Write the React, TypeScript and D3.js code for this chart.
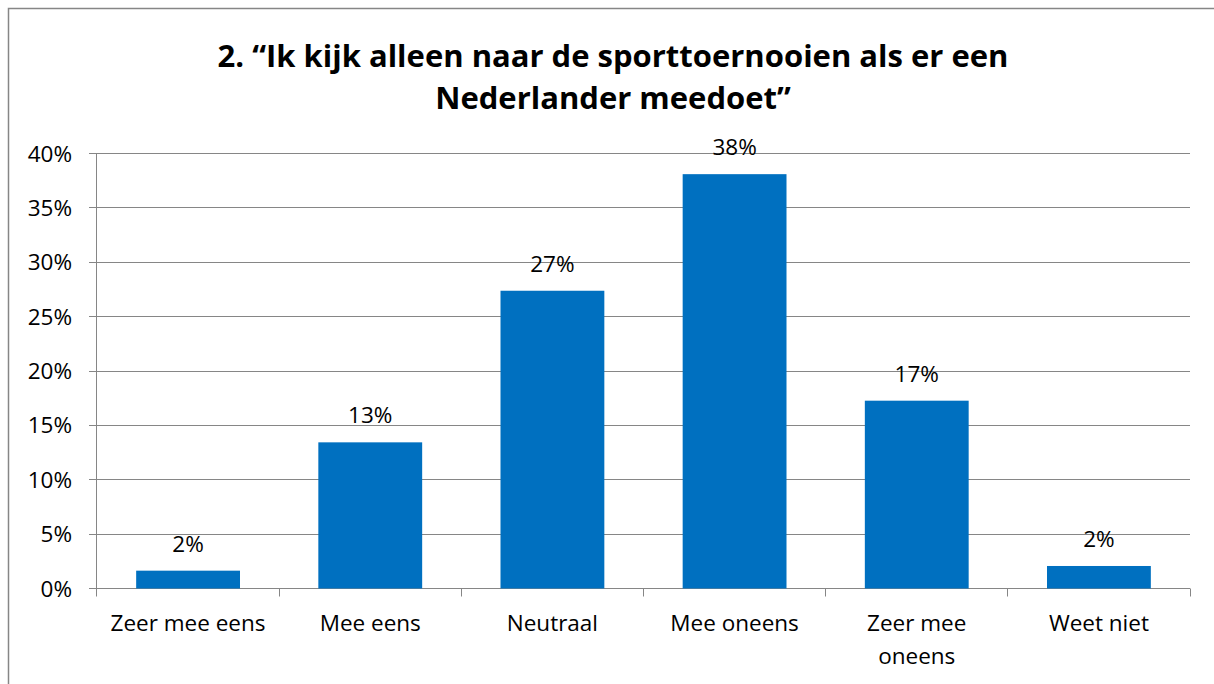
import React from "react";
import * as d3 from "d3";

const categories = ["Zeer mee eens", "Mee eens", "Neutraal", "Mee oneens", "Zeer mee oneens", "Weet niet"];
const categoryLines = [["Zeer mee eens"], ["Mee eens"], ["Neutraal"], ["Mee oneens"], ["Zeer mee", "oneens"], ["Weet niet"]];
const values = [0.0164, 0.1344, 0.2738, 0.381, 0.1727, 0.0207];
const valueLabels = ["2%", "13%", "27%", "38%", "17%", "2%"];
const yTicks = [0, 0.05, 0.1, 0.15, 0.2, 0.25, 0.3, 0.35, 0.4];
const titleLines = ["2. \u201CIk kijk alleen naar de sporttoernooien als er een", "Nederlander meedoet\u201D"];

export default function App() {
  const W = 1214;
  const H = 684;
  const left = 97;
  const right = 1190;
  const top = 153.5;
  const bottom = 588.5;
  const font = "'Open Sans', sans-serif";
  const grid = "#868686";

  const x = d3.scaleBand<string>().domain(categories).range([left, right]).paddingInner(0.43).paddingOuter(0.215);
  const y = d3.scaleLinear().domain([0, 0.4]).range([bottom, top]);
  const step = x.step();
  const crisp = (v: number) => Math.floor(v) + 0.5;

  return (
    <svg width={W} height={H} style={{ position: "absolute", left: 0, top: 0, display: "block" }} fontFamily={font}>
      <rect x={0} y={0} width={W} height={H} fill="#fff" />
      <rect x={8.5} y={8.5} width={W + 20} height={H + 20} fill="none" stroke={grid} strokeWidth={1.5} />
      {titleLines.map((t, i) => (
        <text key={i} x={613} y={67 + i * 42} textAnchor="middle" fontSize={31} fontWeight="bold" fill="#000">
          {t}
        </text>
      ))}
      {yTicks.map((t, i) => (
        <g key={i}>
          <line x1={89} x2={right} y1={crisp(y(t))} y2={crisp(y(t))} stroke={grid} strokeWidth={1} />
          <text x={72} y={y(t) + 8} textAnchor="end" fontSize={22.5} fill="#000">
            {d3.format(".0%")(t)}
          </text>
        </g>
      ))}
      <line x1={96.5} x2={96.5} y1={crisp(y(0.4))} y2={crisp(y(0)) + 8} stroke={grid} strokeWidth={1} />
      {categories.map((c, i) => (
        <line key={"tk" + i} x1={crisp(left + (i + 1) * step)} x2={crisp(left + (i + 1) * step)} y1={crisp(y(0))} y2={crisp(y(0)) + 8} stroke={grid} strokeWidth={1} />
      ))}
      {categories.map((c, i) => (
        <rect key={"b" + i} x={x(c)!} y={y(values[i])} width={x.bandwidth()} height={y(0) - y(values[i])} fill="#0070C0" />
      ))}
      {categories.map((c, i) => (
        <text key={"v" + i} x={x(c)! + x.bandwidth() / 2} y={y(values[i]) - 19} textAnchor="middle" fontSize={22.5} fill="#000">
          {valueLabels[i]}
        </text>
      ))}
      {categories.map((c, i) => (
        <text key={"c" + i} x={x(c)! + x.bandwidth() / 2} y={631} textAnchor="middle" fontSize={22.5} fill="#000">
          {categoryLines[i].map((ln, j) => (
            <tspan key={j} x={x(c)! + x.bandwidth() / 2} dy={j === 0 ? 0 : 32.5}>
              {ln}
            </tspan>
          ))}
        </text>
      ))}
    </svg>
  );
}
